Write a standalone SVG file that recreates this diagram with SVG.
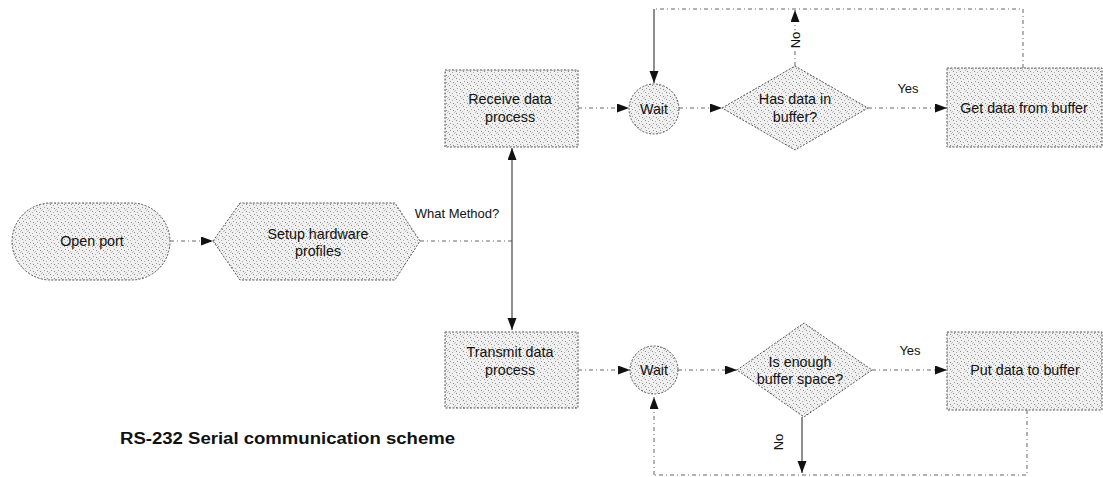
<svg xmlns="http://www.w3.org/2000/svg" width="1103" height="477" viewBox="0 0 1103 477">
<style>
.node{fill:url(#stip);stroke:#555;stroke-width:1;stroke-dasharray:2,1.5}
.t{font-family:"Liberation Sans",Arial,sans-serif;font-size:14.3px;fill:#111;text-anchor:middle}
.lbl{font-family:"Liberation Sans",Arial,sans-serif;font-size:13px;fill:#111;text-anchor:middle}
.c{fill:none;stroke:#666;stroke-width:1;stroke-dasharray:4,3,1,3}
.s{fill:none;stroke:#444;stroke-width:1.2}
.title{font-family:"Liberation Sans",Arial,sans-serif;font-size:16px;font-weight:bold;fill:#111}
</style>
<defs>
<pattern id="stip" width="7" height="7" patternUnits="userSpaceOnUse">
<rect width="7" height="7" fill="#f0f0f0"/>
<rect x="1" y="1" width="1" height="1" fill="#888"/>
<rect x="4" y="2" width="1" height="1" fill="#aaa"/>
<rect x="2" y="4" width="1" height="1" fill="#999"/>
<rect x="5" y="5" width="1" height="1" fill="#888"/>
<rect x="0" y="6" width="1" height="1" fill="#bbb"/>
<rect x="6" y="0" width="1" height="1" fill="#bbb"/>
</pattern>
<marker id="ah" markerWidth="13" markerHeight="10" refX="12" refY="4.5" orient="auto" markerUnits="userSpaceOnUse">
<path d="M0,0 L12,4.5 L0,9 z" fill="#111"/>
</marker>
</defs>
<rect width="1103" height="477" fill="#fff"/>

<g id="connectors">
<path class="c" d="M170,241 H213" marker-end="url(#ah)"/>
<path class="c" d="M420,241 H512"/>
<path class="s" d="M512,241 V148" marker-end="url(#ah)"/>
<path class="s" d="M512,241 V330" marker-end="url(#ah)"/>
<path class="c" d="M578,108 H629" marker-end="url(#ah)"/>
<path class="c" d="M679,108 H722" marker-end="url(#ah)"/>
<path class="c" d="M868,108 H947" marker-end="url(#ah)"/>
<path class="c" d="M795,66 V10" marker-end="url(#ah)"/>
<path class="c" d="M1023,68 V9 H654"/>
<path class="s" d="M654,9 V83" marker-end="url(#ah)"/>
<path class="c" d="M578,370 H630" marker-end="url(#ah)"/>
<path class="c" d="M678,370 H737" marker-end="url(#ah)"/>
<path class="c" d="M872,370 H947" marker-end="url(#ah)"/>
<path class="s" d="M802,417 V473" marker-end="url(#ah)"/>
<path class="c" d="M1027,410 V475 H654"/>
<path class="c" d="M654,475 V397" marker-end="url(#ah)"/>
<text class="lbl" x="457" y="218">What Method?</text>
<text class="lbl" x="908" y="93">Yes</text>
<text class="lbl" x="910" y="355">Yes</text>
<text class="lbl" transform="translate(800,40) rotate(-90)" stroke="#fff" stroke-width="4" paint-order="stroke">No</text>
<text class="lbl" transform="translate(783,442) rotate(-90)">No</text>
</g>

<g id="open-port">
<rect class="node" x="12" y="203" width="158" height="77" rx="38.5"/>
<text class="t" x="92" y="246">Open port</text>
</g>
<g id="setup">
<polygon class="node" points="213,241 240,203 395,203 420,241 395,280 240,280"/>
<text class="t" x="318" y="239">Setup hardware</text>
<text class="t" x="318" y="256">profiles</text>
</g>
<g id="receive">
<rect class="node" x="445" y="70" width="133" height="77"/>
<text class="t" x="510" y="104">Receive data</text>
<text class="t" x="510" y="122">process</text>
</g>
<g id="wait-rx">
<circle class="node" cx="654" cy="109" r="25"/>
<text class="t" x="654" y="114">Wait</text>
</g>
<g id="has-data">
<polygon class="node" points="722,108 795,66 868,108 795,150"/>
<text class="t" x="795" y="104">Has data in</text>
<text class="t" x="795" y="122">buffer?</text>
</g>
<g id="get-data">
<rect class="node" x="947" y="68" width="155" height="79"/>
<text class="t" x="1024" y="113">Get data from buffer</text>
</g>
<g id="transmit">
<rect class="node" x="445" y="332" width="133" height="76"/>
<text class="t" x="510" y="357">Transmit data</text>
<text class="t" x="510" y="375">process</text>
</g>
<g id="wait-tx">
<circle class="node" cx="654" cy="370" r="24"/>
<text class="t" x="654" y="375">Wait</text>
</g>
<g id="enough-space">
<polygon class="node" points="737,370 804,323 872,370 804,417"/>
<text class="t" x="800" y="367">Is enough</text>
<text class="t" x="800" y="384">buffer space?</text>
</g>
<g id="put-data">
<rect class="node" x="947" y="332" width="155" height="78"/>
<text class="t" x="1025" y="375">Put data to buffer</text>
</g>

<text class="title" x="120" y="444" textLength="335" lengthAdjust="spacingAndGlyphs">RS-232 Serial communication scheme</text>
</svg>
